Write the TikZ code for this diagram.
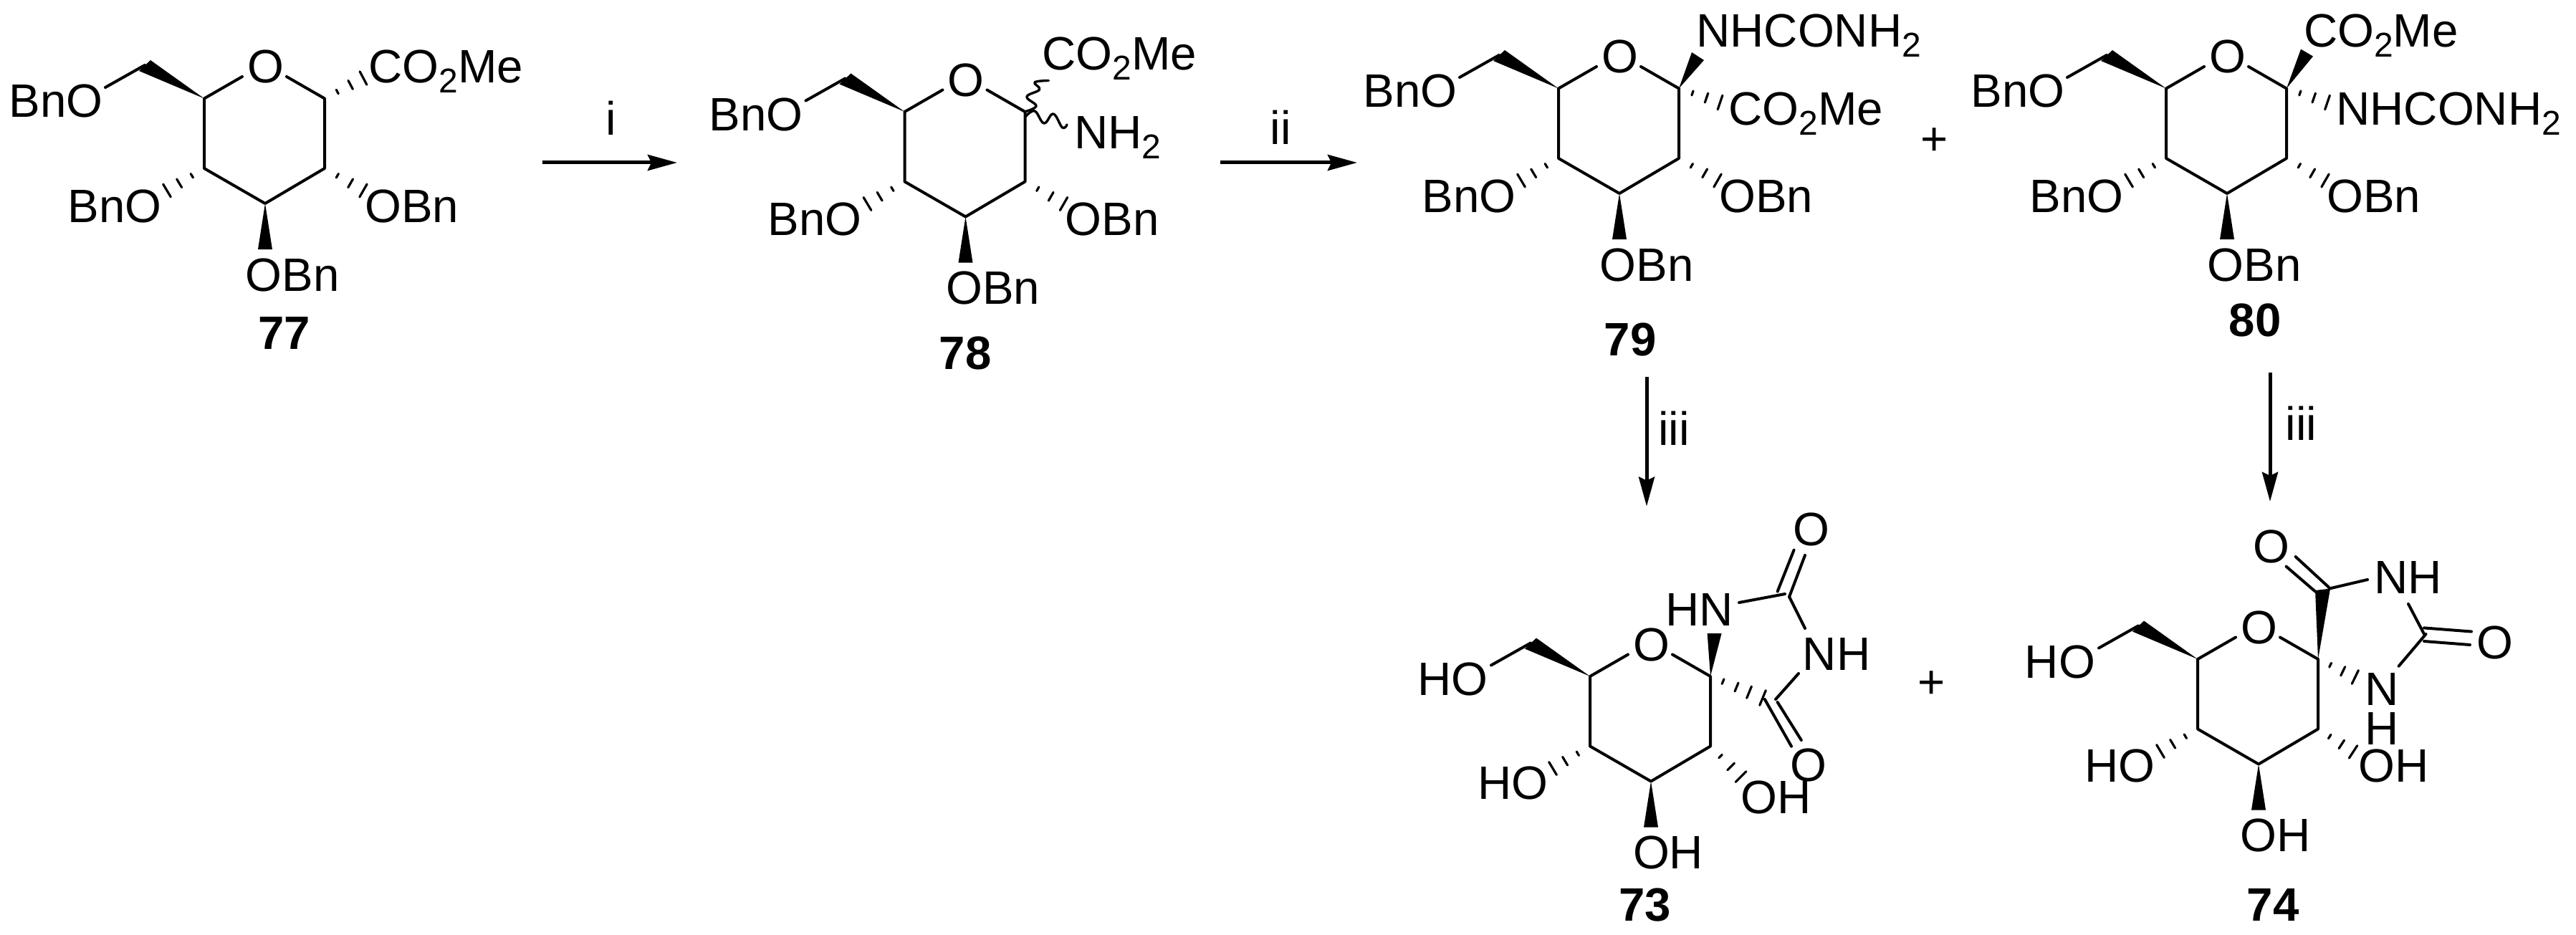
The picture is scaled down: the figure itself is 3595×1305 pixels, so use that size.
\documentclass[tikz,border=0pt]{standalone}
\usepackage{fontspec}
\setmainfont{Liberation Sans}
\usetikzlibrary{calc,arrows.meta}
\newcommand\sbs[1]{\raisebox{-7pt}{\fontsize{24}{24}\selectfont #1}}
\tikzset{
  bond/.style={line width=2pt,line cap=round,line join=round},
  hashtick/.style={line width=1.6pt,line cap=round},
  wavy/.style={line width=1.7pt,line cap=round,line join=round},
  lab/.style={anchor=base west,inner sep=0pt,font=\fontsize{32.7}{36}\selectfont},
  cmpd/.style={anchor=base,inner sep=0pt,font=\fontsize{32.7}{36}\selectfont\bfseries},
  reagent/.style={anchor=base,inner sep=0pt,font=\fontsize{32.7}{36}\selectfont},
  rxn/.style={line width=2.5pt,-{Stealth[length=20.5pt,width=11pt,inset=2.5pt]}}
}
% hashed bond: from named atom #1 to last tick centre #2
\newcommand\hashb[2]{%
  \foreach \hT/\hH in {.33/1.6,.67/3.4,1/5.2}{%
    \coordinate (hc) at ($(#1)!\hT!(#2)$);
    \draw[hashtick] ($(hc)!\hH pt!90:(#1)$) -- ($(hc)!\hH pt!-90:(#1)$);
  }}
% common pyranose ring
\newcommand\sugarring[3]{%
  \begin{scope}[shift={(#2,#3)}]
    \coordinate (#1-C1) at (453,137.5);
    \coordinate (#1-C2) at (453,235);
    \coordinate (#1-C3) at (370,284);
    \coordinate (#1-C4) at (285,235);
    \coordinate (#1-C5) at (285,137.5);
    \coordinate (#1-CH) at (202,91);
    \coordinate (#1-OL) at (338,107);
    \coordinate (#1-OR) at (400,107);
    \coordinate (#1-OE) at (147,122);
    \node[lab] (#1-O) at (344.6,116) {O};
    \draw[bond] (#1-OL) -- (#1-C5) -- (#1-C4) -- (#1-C3) -- (#1-C2) -- (#1-C1) -- (#1-OR);
    \draw[bond] (#1-OE) -- (#1-CH);
    \fill[line join=round] (#1-C5) -- (210,84) -- (194,99) -- cycle;
    \fill (#1-C3) -- (380,348) -- (360,348) -- cycle;
    \hashb{#1-C4}{233,266}
  \end{scope}}
% benzylated sugar labels
\newcommand\bnsugar[3]{%
  \sugarring{#1}{#2}{#3}
  \begin{scope}[shift={(#2,#3)}]
    \node[lab] (#1-t1) at (12,164) {BnO};
    \node[lab] (#1-t2) at (94,310) {BnO};
    \node[lab] (#1-t3) at (509,310) {OBn};
    \node[lab] (#1-t4) at (342.5,406) {OBn};
    \hashb{#1-C2}{507,266}
  \end{scope}}
\begin{document}
\begin{tikzpicture}[x=0.5pt,y=-0.5pt]
\useasboundingbox (0,0) rectangle (3595,1305);
\fill[white] (0,0) rectangle (3595,1305);

% 77
\bnsugar{a}{0}{0}
\node[lab] (a-co) at (514,116) {CO\sbs{2}Me};
\hashb{a-C1}{507,109}
\node[cmpd] (a-n) at (397,487.5) {77};

% 78
\bnsugar{b}{977.5}{18.5}
\node[lab] (b-co) at (1454,98) {CO\sbs{2}Me};
\node[lab] (b-nh) at (1498.6,208) {NH\sbs{2}};
\draw[wavy] plot[smooth,tension=.7] coordinates {(1429.6,156) (1446,148) (1433,135) (1450.6,125) (1444,115) (1463.4,112.5)};
\draw[wavy] plot[smooth,tension=.7] coordinates {(1431.5,162.5) (1444,155) (1457,172) (1470,159) (1482.5,178) (1489,174)};
\node[cmpd] (b-n) at (1347,515) {78};

% 79
\bnsugar{c}{1890}{-14}
\node[lab] (c-ur) at (2367,66) {NHCONH\sbs{2}};
\node[lab] (c-co) at (2412,175) {CO\sbs{2}Me};
\coordinate (c-w1) at (2361,73);
\coordinate (c-w2) at (2378,84);
\fill (c-C1) -- (c-w1) -- (c-w2) -- cycle;
\hashb{c-C1}{2400.5,143}
\node[cmpd] (c-n) at (2275,496.4) {79};

% 80
\bnsugar{d}{2738}{-14}
\node[lab] (d-co) at (3214.7,66) {CO\sbs{2}Me};
\node[lab] (d-ur) at (3260,175) {NHCONH\sbs{2}};
\coordinate (d-w1) at (3211,68.6);
\coordinate (d-w2) at (3228,78.6);
\fill (d-C1) -- (d-w1) -- (d-w2) -- cycle;
\hashb{d-C1}{3248,143}
\node[cmpd] (d-n) at (3147,469.6) {80};

\node[lab,anchor=center] (plus1) at (2700,198) {+};

% 73
\sugarring{e}{1934}{806.5}
\node[lab] (e-t1) at (1978,970) {HO};
\node[lab] (e-t2) at (2062,1115) {HO};
\node[lab] (e-t3) at (2429,1135.5) {OH};
\node[lab] (e-t4) at (2278.6,1212.7) {OH};
\coordinate (e-h2) at (2429.6,1084);
\hashb{e-C2}{e-h2}
\node[lab] (e-hn) at (2323.6,873.7) {HN};
\node[lab] (e-nh) at (2515.4,935.5) {NH};
\node[lab] (e-o1) at (2502,761.8) {O};
\node[lab] (e-o2) at (2498,1090.7) {O};
\coordinate (e-w1) at (2382.6,884);
\coordinate (e-w2) at (2402.6,884);
\fill (e-C1) -- (e-w1) -- (e-w2) -- cycle;
\coordinate (e-Cu) at (2491,829);
\coordinate (e-nb) at (2427,841);
\coordinate (e-u1) at (2519,877);
\draw[bond] (e-nb) -- (e-Cu);
\draw[bond] (2497,833) -- (e-u1);
\draw[bond] (2480.6,825.5) -- (2503.6,767.6);
\draw[bond] (2497,833) -- (2519,775);
\coordinate (e-Cl) at (2470,977);
\coordinate (e-n2) at (2510,940);
\draw[bond] (e-n2) -- (2478,976);
\draw[bond] (2462.8,976) -- (2500,1041.7);
\draw[bond] (2480.6,980) -- (2513.8,1033);
\foreach \hT/\hH in {.24/1.8,.5/3.2,.74/4.4,1/5.6}{%
  \coordinate (hc) at ($(e-C1)!\hT!(2460,974)$);
  \draw[hashtick] ($(hc)!\hH pt!90:(e-C1)$) -- ($(hc)!\hH pt!-90:(e-C1)$);
}
\node[cmpd] (e-n) at (2295.5,1285) {73};
\node[lab,anchor=center] (plus2) at (2696,956) {+};

% 74
\sugarring{f}{2782}{782.5}
\node[lab] (f-t1) at (2825.4,946) {HO};
\node[lab] (f-t2) at (2909,1091) {HO};
\node[lab] (f-t3) at (3291.5,1091) {OH};
\node[lab] (f-t4) at (3126,1188.4) {OH};
\coordinate (f-h2) at (3284,1049.4);
\hashb{f-C2}{f-h2}
\node[lab] (f-nh) at (3313,828) {NH};
\node[lab] (f-n1) at (3300,984.6) {N};
\node[lab] (f-n2) at (3300,1039.8) {H};
\node[lab] (f-o1) at (3144.5,785.7) {O};
\node[lab] (f-o2) at (3456,919) {O};
\coordinate (f-w1) at (3231,824);
\coordinate (f-w2) at (3252,821.6);
\fill (f-C1) -- (f-w1) -- (f-w2) -- cycle;
\draw[bond] (3250.4,821.6) -- (3304,809);
\draw[bond] (3231,825.5) -- (3190.6,790.7);
\draw[bond] (3250,819.7) -- (3203.6,777);
\draw[bond] (3361,843) -- (3383,885);
\draw[bond] (3383,876.4) -- (3449,881.5);
\draw[bond] (3383,895) -- (3447,900);
\draw[bond] (3385.5,885) -- (3347.6,929.7);
\hashb{f-C1}{3286.8,945}
\node[cmpd] (f-n) at (3172,1285) {74};

% arrows
\coordinate (r1s) at (757,227);   \coordinate (r1e) at (945,227);
\coordinate (r2s) at (1702.5,227);\coordinate (r2e) at (1894,227);
\coordinate (r3s) at (2298,526);  \coordinate (r3e) at (2298,706.7);
\coordinate (r4s) at (3168,520);  \coordinate (r4e) at (3168,700);
\draw[rxn] (r1s) -- (r1e);
\draw[rxn] (r2s) -- (r2e);
\draw[rxn] (r3s) -- (r3e);
\draw[rxn] (r4s) -- (r4e);
\node[reagent] (l1) at (853,189) {i};
\node[reagent] (l2) at (1787.5,202) {ii};
\node[reagent] (l3) at (2336,621.7) {iii};
\node[reagent] (l4) at (3211.7,614.7) {iii};
\end{tikzpicture}
\end{document}
